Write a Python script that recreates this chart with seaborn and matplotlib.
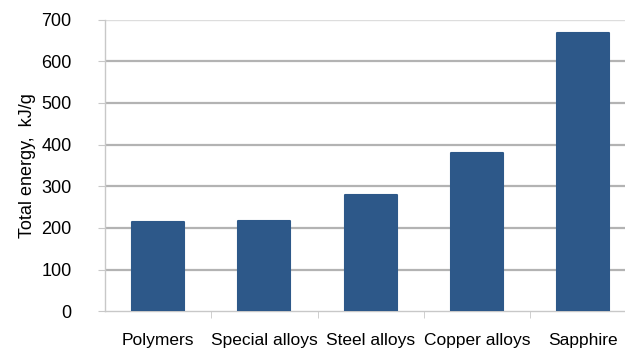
import matplotlib.pyplot as plt
import seaborn as sns
import pandas as pd

materials = ["Polymers", "Special alloys", "Steel alloys", "Copper alloys", "Sapphire"]
energy = [214, 217, 280, 380, 668]

sns.set_style("white")
plt.rcParams['font.family'] = ['Liberation Sans', 'DejaVu Sans']

df = pd.DataFrame({"material": materials, "energy": energy})

fig = plt.figure(figsize=(6.25, 3.5), dpi=100)
ax = fig.add_axes([0.168, 0.111, 0.85, 0.833])

sns.barplot(data=df, x="material", y="energy", color="#2D5889", width=0.49,
            saturation=1, ax=ax, zorder=3,
            edgecolor="#2D5889", linewidth=1.5)
for p in ax.patches:
    p.set_joinstyle("round")

ax.set_ylim(0, 700)
ax.set_xlim(-0.5, 4.5)
ax.set_yticks(range(0, 701, 100))
ax.set_xlabel("")
ax.set_ylabel("Total energy,  kJ/g", fontsize=13, labelpad=4, color="black")

# gridlines
for v in range(100, 700, 100):
    ax.axhline(v, color="#B3B3B3", linewidth=1.6, zorder=1)
ax.axhline(700, color="#DDDDDD", linewidth=1.0, zorder=1)

for side in ["top", "right"]:
    ax.spines[side].set_visible(False)
for side in ["left", "bottom"]:
    ax.spines[side].set_color("#C8C8C8")
    ax.spines[side].set_linewidth(1.0)

ax.tick_params(axis="y", left=True, length=5, color="#C8C8C8", labelsize=13,
               labelcolor="black", pad=19)
ax.tick_params(axis="x", bottom=True, length=0, labelsize=12.5,
               labelcolor="black", pad=16)
ax.set_xticks([0.5, 1.5, 2.5, 3.5], minor=True)
ax.tick_params(axis="x", which="minor", bottom=True, length=5, color="#C8C8C8")

plt.savefig("out.png", dpi=100)
